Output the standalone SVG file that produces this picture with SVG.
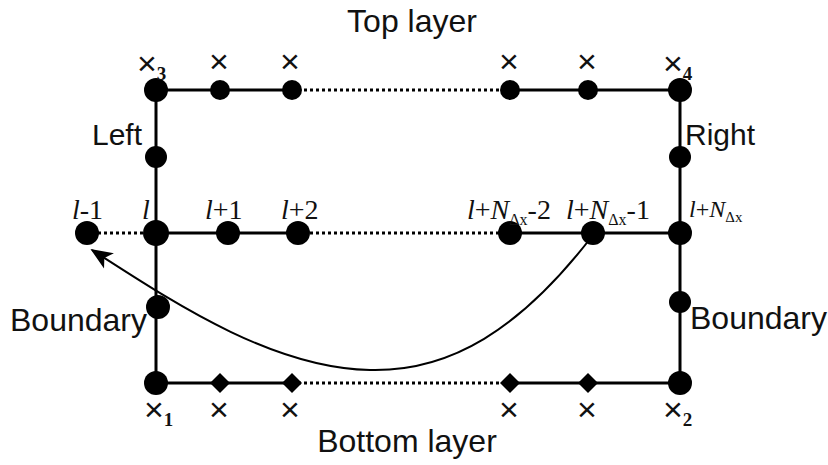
<svg xmlns="http://www.w3.org/2000/svg" width="828" height="465" viewBox="0 0 828 465">
<style>
.s{font-family:"Liberation Sans",Arial,sans-serif;font-size:32px;fill:#111}
.t{font-family:"Liberation Serif","Times New Roman",serif;font-size:28px;fill:#111}
.i{font-style:italic}
.sub{font-size:16px}
.x{font-family:"Liberation Sans",Arial,sans-serif;font-size:34px;fill:#111}
.xs{font-family:"Liberation Serif",serif;font-weight:bold;font-size:19px}
.ln{stroke:#000;stroke-width:3;fill:none}
.dt{stroke:#000;stroke-width:3;fill:none;stroke-dasharray:3 3}
.n{fill:#000}
</style>
<defs>
<marker id="ah" viewBox="0 0 12 10" refX="11" refY="5" markerWidth="11" markerHeight="10" markerUnits="strokeWidth" orient="auto">
<path d="M0,0 L12,5 L0,10 L3,5 z" fill="#000"/>
</marker>
</defs>
<text class="s" x="412" y="32" text-anchor="middle">Top layer</text>
<text class="s" x="407" y="452" text-anchor="middle">Bottom layer</text>
<text class="s" x="92" y="145" style="font-size:30px">Left</text>
<text class="s" x="685" y="145" style="font-size:30px">Right</text>
<text class="s" x="10" y="331">Boundary</text>
<text class="s" x="690" y="329">Boundary</text>
<g id="connectors">
<line class="ln" x1="156" y1="90" x2="292" y2="90"/>
<line class="dt" x1="292" y1="90" x2="510" y2="90"/>
<line class="ln" x1="510" y1="90" x2="680" y2="90"/>
<line class="ln" x1="156" y1="90" x2="156" y2="383"/>
<line class="ln" x1="680" y1="90" x2="680" y2="383"/>
<line class="dt" x1="86" y1="233" x2="156" y2="233"/>
<line class="ln" x1="156" y1="233" x2="298" y2="233"/>
<line class="dt" x1="298" y1="233" x2="510" y2="233"/>
<line class="ln" x1="510" y1="233" x2="680" y2="233"/>
<line class="ln" x1="156" y1="383" x2="292" y2="383"/>
<line class="dt" x1="292" y1="383" x2="510" y2="383"/>
<line class="ln" x1="510" y1="383" x2="680" y2="383"/>
<path d="M593,235 C520,330 450,372 370,370 C270,368 170,300 92,250" stroke="#000" stroke-width="2" fill="none" marker-end="url(#ah)"/>
</g>
<g id="top">
<circle class="n" cx="156" cy="90" r="12"/>
<circle class="n" cx="220" cy="90" r="10"/>
<circle class="n" cx="292" cy="90" r="10"/>
<circle class="n" cx="510" cy="90" r="10"/>
<circle class="n" cx="588" cy="90" r="10"/>
<circle class="n" cx="680" cy="90" r="12"/>
<text class="x" x="137" y="75">×<tspan class="xs" dy="5">3</tspan></text>
<text class="x" x="209" y="73">×</text>
<text class="x" x="280" y="73">×</text>
<text class="x" x="499" y="73">×</text>
<text class="x" x="577" y="73">×</text>
<text class="x" x="663" y="75">×<tspan class="xs" dy="5">4</tspan></text>
</g>
<g id="sides">
<circle class="n" cx="156" cy="157" r="11"/>
<circle class="n" cx="680" cy="157" r="11"/>
<circle class="n" cx="158" cy="307" r="12"/>
<circle class="n" cx="680" cy="302" r="11"/>
</g>
<g id="middle">
<circle class="n" cx="87" cy="233" r="12"/>
<circle class="n" cx="156" cy="233" r="13"/>
<circle class="n" cx="228" cy="233" r="12"/>
<circle class="n" cx="298" cy="233" r="12"/>
<circle class="n" cx="510" cy="233" r="12"/>
<circle class="n" cx="593" cy="233" r="12"/>
<circle class="n" cx="680" cy="233" r="12"/>
<text class="t" x="72" y="219"><tspan class="i">l</tspan>-1</text>
<text class="t i" x="142" y="219">l</text>
<text class="t" x="205" y="219"><tspan class="i">l</tspan>+1</text>
<text class="t" x="281" y="219"><tspan class="i">l</tspan>+2</text>
<text class="t" x="467" y="219"><tspan class="i">l</tspan>+<tspan class="i">N</tspan><tspan class="sub" dy="6">Δx</tspan><tspan dy="-6">-2</tspan></text>
<text class="t" x="566" y="219"><tspan class="i">l</tspan>+<tspan class="i">N</tspan><tspan class="sub" dy="6">Δx</tspan><tspan dy="-6">-1</tspan></text>
<text class="t" x="689" y="217" style="font-size:24px"><tspan class="i">l</tspan>+<tspan class="i">N</tspan><tspan class="sub" style="font-size:15px" dy="5">Δx</tspan></text>
</g>
<g id="bottom">
<circle class="n" cx="156" cy="383" r="12"/>
<path class="n" d="M220,373 L230,383 L220,393 L210,383 z"/>
<path class="n" d="M292,373 L302,383 L292,393 L282,383 z"/>
<path class="n" d="M510,373 L520,383 L510,393 L500,383 z"/>
<path class="n" d="M588,373 L598,383 L588,393 L578,383 z"/>
<circle class="n" cx="680" cy="383" r="12"/>
<text class="x" x="144" y="421">×<tspan class="xs" dy="5">1</tspan></text>
<text class="x" x="209" y="421">×</text>
<text class="x" x="280" y="421">×</text>
<text class="x" x="499" y="421">×</text>
<text class="x" x="577" y="421">×</text>
<text class="x" x="663" y="421">×<tspan class="xs" dy="5">2</tspan></text>
</g>
</svg>
